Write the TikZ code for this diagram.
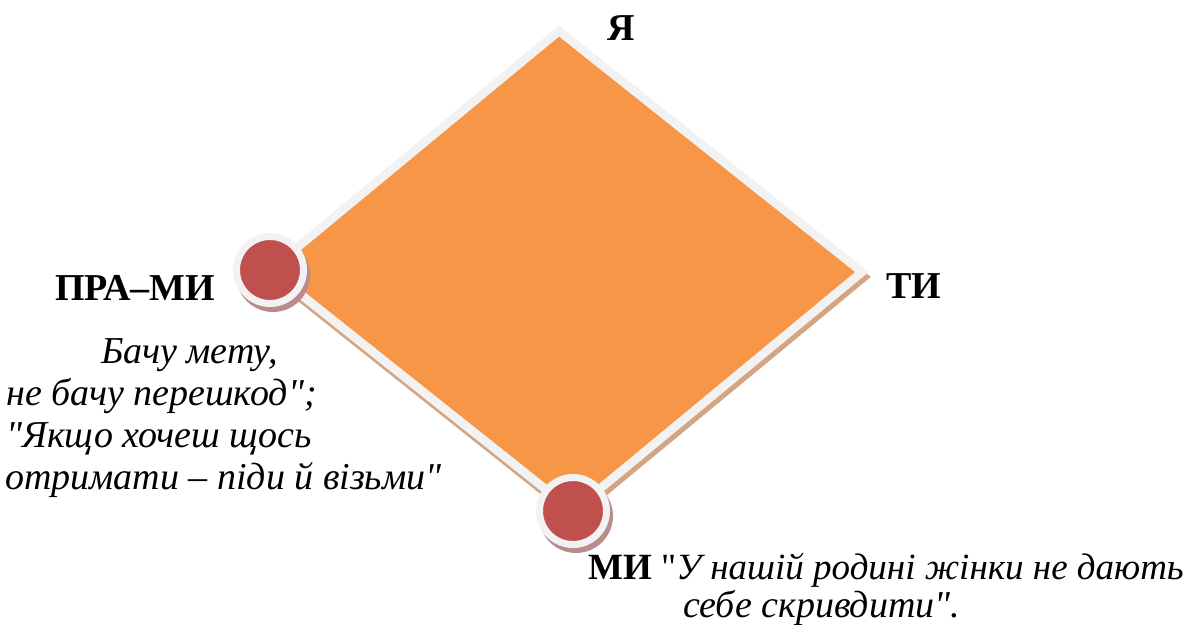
\documentclass[tikz,border=0pt]{standalone}
\usepackage{fontspec}
\setmainfont{Liberation Serif}[Ligatures=TeXOff]
\usepackage{tikz}
\usetikzlibrary{positioning}
\usepackage{xcolor}
\definecolor{diamondfill}{HTML}{F79646}
\definecolor{rimwhite}{HTML}{F2F2F2}
\definecolor{dotred}{HTML}{C0504D}
\definecolor{edgeshadow}{RGB}{212,165,130}
\definecolor{dotshadow}{RGB}{185,140,140}

\begin{document}
\begin{tikzpicture}[x=1pt, y=-1pt,
    dot/.style={circle, fill=dotred, draw=rimwhite, line width=7pt, minimum size=67pt, inner sep=0pt},
    dotshade/.style={circle, fill=dotshadow, minimum size=74pt, inner sep=0pt},
    word/.style={font=\fontsize{38}{42}\selectfont\bfseries, anchor=base, inner sep=0pt},
    quote/.style={font=\fontsize{38}{42}\selectfont\itshape, anchor=base west, inner sep=0pt}]
    \useasboundingbox (0,0) rectangle (1193,624);

    % Define the vertices
    \coordinate (t) at (559,31);
    \coordinate (r) at (862,272);
    \coordinate (b) at (573,511);
    \coordinate (l) at (270,270);

    % Shadow of the diamond, then the diamond itself
    \filldraw[fill=edgeshadow, draw=edgeshadow, line width=8.6pt, line join=miter]
        ([shift={(2,5)}]t) -- ([shift={(2,5)}]r) -- ([shift={(2,5)}]b) -- ([shift={(2,5)}]l) -- cycle;
    \filldraw[fill=diamondfill, draw=rimwhite, line width=8.6pt, line join=miter]
        (t) -- (r) -- (b) -- (l) -- cycle;

    % Red dots on the left and bottom corners
    \node[dotshade] (prashade) at ([shift={(3,5)}]l) {};
    \node[dot] (pradot) at (l) {};
    \node[dotshade] (mishade) at ([shift={(3,5)}]b) {};
    \node[dot] (midot) at (b) {};

    % Corner labels
    \node[word] (ya) at (621,40) {Я};
    \node[word] (ty) at (914,298) {ТИ};
    \node[word] (prami) at (135,300) {ПРА–МИ};

    % Quote under ПРА-МИ
    \node[quote] (q1) at (101,363) {Бачу мету,};
    \node[quote] (q2) at (6,405) {не бачу перешкод";};
    \node[quote] (q3) at (6,447) {"Якщо хочеш щось};
    \node[quote] (q4) at (5,489) {отримати – піди й візьми"};

    % Quote under МИ
    \node[quote, font=\fontsize{37}{42}\selectfont\itshape] (q5) at (588,579)
        {\upshape\bfseries МИ \mdseries"\itshape У нашій родині жінки не дають};
    \node[quote] (q6) at (683,617) {себе скривдити".};

\end{tikzpicture}
\end{document}
